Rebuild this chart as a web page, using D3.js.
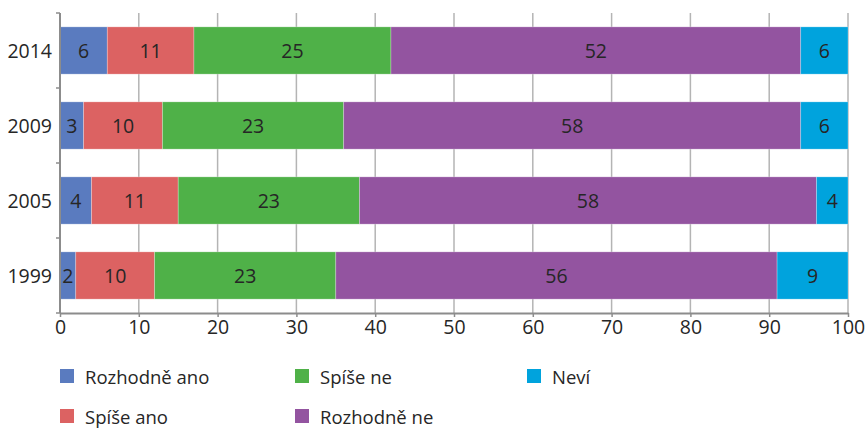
<!DOCTYPE html>
<html>
<head>
<meta charset="utf-8">
<script src="https://cdn.jsdelivr.net/npm/d3@7"></script>
<style>
  body { margin: 0; background: #fff; }
  text { font-family: "Open Sans", sans-serif; fill: #262626; }
</style>
</head>
<body>
<svg id="chart" width="865" height="428"></svg>
<script>
const years = ["2014", "2009", "2005", "1999"];
const seriesNames = ["Rozhodně ano", "Spíše ano", "Spíše ne", "Rozhodně ne", "Neví"];
const seriesColors = ["#5a7bbf", "#dc6262", "#4fb148", "#9354a0", "#00a3dd"];
const rozhodneAno = [6, 3, 4, 2];
const spiseAno = [11, 10, 11, 10];
const spiseNe = [25, 23, 23, 23];
const rozhodneNe = [52, 58, 58, 56];
const nevi = [6, 6, 4, 9];
const xTicks = [0, 10, 20, 30, 40, 50, 60, 70, 80, 90, 100];

(function () {
const seriesValues = [rozhodneAno, spiseAno, spiseNe, rozhodneNe, nevi];
const table = years.map((yr, i) => {
  const row = { year: yr };
  seriesNames.forEach((s, k) => row[s] = seriesValues[k][i]);
  return row;
});
const stacked = d3.stack().keys(seriesNames)(table);

const svg = d3.select("#chart");
const mLeft = 60, mRight = 848, mTop = 13, mBottom = 313;
const numSize = 19.5;

const x = d3.scaleLinear().domain([0, 100]).range([mLeft, mRight]);
const y = d3.scaleBand().domain(years).range([mTop, mBottom]).paddingInner(0.37).paddingOuter(0.185);
const yOuter = d3.scaleBand().domain(years).range([mTop, mBottom]);

// gridlines
svg.append("g").selectAll("line").data(xTicks.slice(1)).join("line")
  .attr("x1", d => x(d)).attr("x2", d => x(d))
  .attr("y1", mTop).attr("y2", mBottom)
  .attr("stroke", "#b4b4b4").attr("stroke-width", 1.5);

// bars
const layers = svg.append("g").selectAll("g").data(stacked).join("g")
  .attr("fill", (d, i) => seriesColors[i]);
layers.selectAll("rect").data(d => d).join("rect")
  .attr("x", d => x(d[0]))
  .attr("width", d => x(d[1]) - x(d[0]))
  .attr("y", d => y(d.data.year))
  .attr("height", y.bandwidth())
  .attr("stroke", "rgba(255,255,255,0.35)")
  .attr("stroke-width", 0.75);

// labels
svg.append("g").selectAll("g").data(stacked).join("g")
  .selectAll("text").data(d => d).join("text")
  .attr("x", d => (x(d[0]) + x(d[1])) / 2)
  .attr("y", d => y(d.data.year) + y.bandwidth() / 2)
  .attr("text-anchor", "middle")
  .attr("dominant-baseline", "central")
  .attr("font-size", numSize)
  .text(d => d[1] - d[0]);

// x axis
const xAxis = svg.append("g").attr("transform", `translate(0,${mBottom})`)
  .call(d3.axisBottom(x).tickValues(xTicks).tickSize(4).tickPadding(3).tickSizeOuter(0));
xAxis.select(".domain").attr("stroke", "#8c8c8c").attr("stroke-width", 2);
xAxis.selectAll(".tick line").attr("stroke", "#8c8c8c").attr("stroke-width", 1.5);
xAxis.selectAll(".tick text").attr("font-size", numSize).attr("font-family", "Open Sans").attr("fill", "#262626");

// y axis
const yAxisG = svg.append("g").attr("transform", `translate(${mLeft},0)`);
yAxisG.append("line").attr("x1", 0).attr("x2", 0).attr("y1", mTop).attr("y2", mBottom)
  .attr("stroke", "#8c8c8c").attr("stroke-width", 2);
const boundaries = years.map(yy => yOuter(yy)).concat([mBottom]);
yAxisG.selectAll("line.tk").data(boundaries).join("line").attr("class", "tk")
  .attr("x1", -4).attr("x2", 0).attr("y1", d => d).attr("y2", d => d)
  .attr("stroke", "#8c8c8c").attr("stroke-width", 1.5);
yAxisG.selectAll("text").data(years).join("text")
  .attr("x", -8)
  .attr("y", d => y(d) + y.bandwidth() / 2)
  .attr("text-anchor", "end")
  .attr("dominant-baseline", "central")
  .attr("font-size", numSize)
  .text(d => d);

// legend
const legendPos = [[60, 376], [60, 416], [295, 376], [295, 416], [527, 376]];
const lg = svg.append("g").selectAll("g").data(seriesNames).join("g")
  .attr("transform", (d, i) => `translate(${legendPos[i][0]},${legendPos[i][1]})`);
lg.append("rect").attr("x", 0).attr("y", -7).attr("width", 14).attr("height", 14)
  .attr("fill", (d, i) => seriesColors[i]);
lg.append("text").attr("x", 25).attr("y", 0)
  .attr("dominant-baseline", "central")
  .attr("font-size", 18.5)
  .text(d => d);
})();
</script>
</body>
</html>
